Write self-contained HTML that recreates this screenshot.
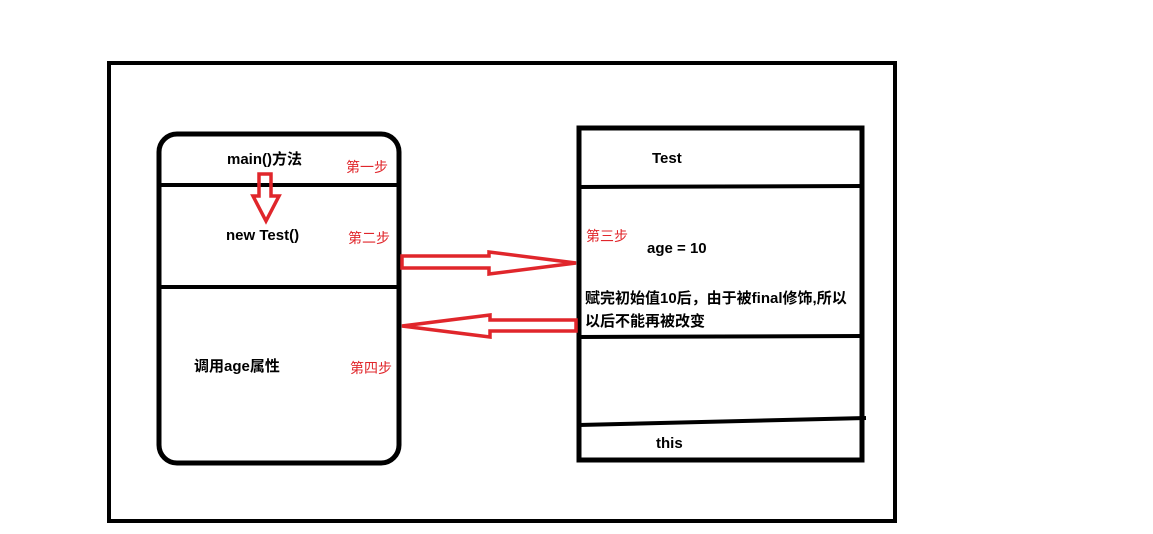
<!DOCTYPE html>
<html><head><meta charset="utf-8"><style>
html,body{margin:0;padding:0;background:#fff;}
text{font-family:"Liberation Sans","Noto Sans CJK SC",sans-serif;font-size:15px;font-weight:bold;}
.r{fill:#e0262b;font-weight:normal;font-size:14px;}
</style></head><body>
<svg width="1153" height="529" viewBox="0 0 1153 529" xmlns="http://www.w3.org/2000/svg">
<rect x="109" y="63" width="786" height="458" fill="none" stroke="#000" stroke-width="4"/>
<rect x="159" y="134" width="240" height="329" rx="18" fill="none" stroke="#000" stroke-width="5"/>
<line x1="159" y1="185" x2="399" y2="185" stroke="#000" stroke-width="4"/>
<line x1="159" y1="287" x2="399" y2="287" stroke="#000" stroke-width="4"/>
<rect x="579" y="128" width="283" height="332" fill="none" stroke="#000" stroke-width="5"/>
<line x1="579" y1="187" x2="862" y2="186" stroke="#000" stroke-width="4"/>
<line x1="579" y1="337" x2="862" y2="336" stroke="#000" stroke-width="4"/>
<line x1="579" y1="425" x2="866" y2="418" stroke="#000" stroke-width="4"/>
<polygon points="259,174 271,174 271,196 279,196 266,221 253,196 259,196" fill="none" stroke="#e0262b" stroke-width="3.5" stroke-linejoin="miter"/>
<polygon points="402,256 489,256 489,252 576,263 489,274 489,268 402,268" fill="none" stroke="#e0262b" stroke-width="3.5"/>
<polygon points="576,320 490,320 490,315 402,326 490,337 490,331 576,331" fill="none" stroke="#e0262b" stroke-width="3.5"/>
<text x="227" y="164">main()方法</text>
<text class="r" x="346" y="172">第一步</text>
<text x="226" y="240">new Test()</text>
<text class="r" x="348" y="243">第二步</text>
<text x="194" y="371">调用age属性</text>
<text class="r" x="350" y="373">第四步</text>
<text x="652" y="163">Test</text>
<text class="r" x="586" y="241">第三步</text>
<text x="647" y="253">age = 10</text>
<text x="585" y="303">赋完初始值10后，由于被final修饰,所以</text>
<text x="585" y="326">以后不能再被改变</text>
<text x="656" y="448">this</text>
</svg>
</body></html>
